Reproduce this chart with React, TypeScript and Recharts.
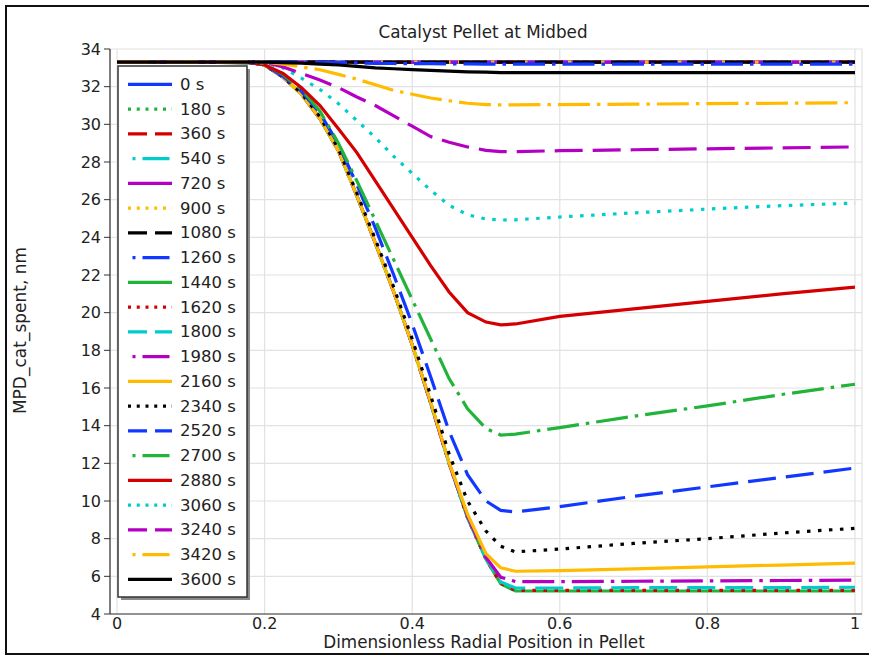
import { LineChart, Line, XAxis, YAxis, CartesianGrid, Legend } from 'recharts';

// radial positions sampled along the pellet (0 = centre, 1 = surface)
const positions = [0, 0.1, 0.18, 0.2, 0.225, 0.25, 0.275, 0.3, 0.325, 0.35, 0.375, 0.4, 0.425, 0.45, 0.475, 0.5, 0.52, 0.54, 0.6, 0.7, 0.8, 0.9, 1];

const times = [0, 180, 360, 540, 720, 900, 1080, 1260, 1440, 1620, 1800, 1980, 2160, 2340, 2520, 2700, 2880, 3060, 3240, 3420, 3600];

const mpd0 = [33.3, 33.3, 33.3, 33.3, 33.3, 33.3, 33.3, 33.3, 33.3, 33.3, 33.3, 33.3, 33.3, 33.3, 33.3, 33.3, 33.3, 33.3, 33.3, 33.3, 33.3, 33.3, 33.3];
const mpd180 = [33.3, 33.3, 33.3, 33.3, 33.3, 33.3, 33.3, 33.3, 33.3, 33.3, 33.3, 33.3, 33.3, 33.3, 33.3, 33.3, 33.3, 33.3, 33.3, 33.3, 33.3, 33.3, 33.3];
const mpd360 = [33.3, 33.3, 33.3, 33.3, 33.3, 33.3, 33.3, 33.3, 33.3, 33.3, 33.3, 33.3, 33.3, 33.3, 33.3, 33.3, 33.3, 33.3, 33.3, 33.3, 33.3, 33.3, 33.3];
const mpd540 = [33.3, 33.3, 33.3, 33.3, 33.3, 33.3, 33.3, 33.3, 33.3, 33.3, 33.3, 33.3, 33.3, 33.3, 33.3, 33.3, 33.3, 33.3, 33.3, 33.3, 33.3, 33.3, 33.3];
const mpd720 = [33.3, 33.3, 33.3, 33.3, 33.3, 33.3, 33.3, 33.3, 33.3, 33.3, 33.3, 33.3, 33.3, 33.3, 33.3, 33.3, 33.3, 33.3, 33.3, 33.3, 33.3, 33.3, 33.3];
const mpd900 = [33.3, 33.3, 33.3, 33.3, 33.3, 33.3, 33.3, 33.3, 33.3, 33.3, 33.3, 33.3, 33.3, 33.3, 33.3, 33.3, 33.3, 33.3, 33.3, 33.3, 33.3, 33.3, 33.3];
const mpd1080 = [33.3, 33.3, 33.3, 33.3, 33.3, 33.3, 33.3, 33.3, 33.3, 33.3, 33.3, 33.3, 33.3, 33.3, 33.3, 33.3, 33.3, 33.3, 33.3, 33.3, 33.3, 33.3, 33.3];
const mpd1260 = [33.3, 33.3, 33.3, 33.3, 33.3, 33.3, 33.3, 33.28, 33.26, 33.24, 33.23, 33.22, 33.22, 33.21, 33.21, 33.2, 33.2, 33.2, 33.2, 33.2, 33.2, 33.2, 33.2];
const mpd1440 = [33.3, 33.3, 33.28, 33.15, 32.5, 31.6, 30.3, 28.6, 26.2, 23.7, 21.1, 18.3, 15.2, 12.0, 9.1, 6.9, 5.6, 5.22, 5.22, 5.22, 5.22, 5.22, 5.22];
const mpd1620 = [33.3, 33.3, 33.28, 33.15, 32.5, 31.6, 30.3, 28.6, 26.2, 23.7, 21.1, 18.3, 15.2, 12.0, 9.1, 6.9, 5.62, 5.25, 5.25, 5.25, 5.25, 5.25, 5.26];
const mpd1800 = [33.3, 33.3, 33.28, 33.15, 32.5, 31.6, 30.3, 28.6, 26.2, 23.7, 21.1, 18.3, 15.2, 12.0, 9.15, 6.95, 5.7, 5.38, 5.38, 5.4, 5.4, 5.4, 5.42];
const mpd1980 = [33.3, 33.3, 33.28, 33.15, 32.5, 31.6, 30.3, 28.6, 26.2, 23.7, 21.1, 18.3, 15.2, 12.0, 9.2, 7.0, 5.95, 5.72, 5.72, 5.74, 5.76, 5.78, 5.8];
const mpd2160 = [33.3, 33.3, 33.28, 33.15, 32.5, 31.6, 30.3, 28.6, 26.2, 23.7, 21.1, 18.3, 15.25, 12.05, 9.3, 7.2, 6.45, 6.27, 6.3, 6.4, 6.5, 6.6, 6.7];
const mpd2340 = [33.3, 33.3, 33.28, 33.15, 32.52, 31.65, 30.4, 28.7, 26.35, 23.9, 21.35, 18.6, 15.6, 12.5, 10.0, 8.4, 7.6, 7.3, 7.45, 7.75, 8.0, 8.3, 8.55];
const mpd2520 = [33.3, 33.3, 33.28, 33.15, 32.55, 31.75, 30.6, 28.95, 26.8, 24.5, 22.0, 19.4, 16.6, 13.7, 11.4, 10.0, 9.5, 9.42, 9.7, 10.25, 10.75, 11.25, 11.75];
const mpd2700 = [33.3, 33.3, 33.28, 33.18, 32.65, 31.85, 30.7, 29.0, 27.0, 24.9, 22.8, 20.7, 18.6, 16.5, 14.9, 13.85, 13.5, 13.55, 13.9, 14.5, 15.05, 15.65, 16.2];
const mpd2880 = [33.3, 33.3, 33.29, 33.15, 32.7, 31.95, 31.0, 29.77, 28.5, 27.0, 25.5, 24.0, 22.5, 21.1, 20.0, 19.5, 19.35, 19.4, 19.8, 20.2, 20.6, 21.0, 21.36];
const mpd3060 = [33.3, 33.3, 33.3, 33.25, 33.0, 32.45, 31.85, 31.1, 30.2, 29.3, 28.3, 27.4, 26.5, 25.7, 25.2, 24.97, 24.92, 24.93, 25.08, 25.3, 25.5, 25.68, 25.82];
const mpd3240 = [33.3, 33.3, 33.3, 33.28, 33.05, 32.7, 32.35, 31.95, 31.45, 31.0, 30.45, 29.9, 29.35, 29.05, 28.8, 28.62, 28.55, 28.55, 28.6, 28.65, 28.7, 28.75, 28.8];
const mpd3420 = [33.3, 33.3, 33.3, 33.3, 33.2, 33.05, 32.9, 32.65, 32.4, 32.1, 31.8, 31.6, 31.4, 31.25, 31.12, 31.05, 31.03, 31.03, 31.05, 31.07, 31.1, 31.12, 31.15];
const mpd3600 = [33.3, 33.3, 33.3, 33.3, 33.28, 33.25, 33.2, 33.15, 33.08, 33.0, 32.95, 32.9, 32.86, 32.82, 32.79, 32.77, 32.75, 32.75, 32.75, 32.75, 32.75, 32.75, 32.75];

const series = [
  mpd0, mpd180, mpd360, mpd540, mpd720, mpd900, mpd1080, mpd1260, mpd1440, mpd1620, mpd1800,
  mpd1980, mpd2160, mpd2340, mpd2520, mpd2700, mpd2880, mpd3060, mpd3240, mpd3420, mpd3600,
];

const xTicks = [0, 0.2, 0.4, 0.6, 0.8, 1];
const yTicks = [4, 6, 8, 10, 12, 14, 16, 18, 20, 22, 24, 26, 28, 30, 32, 34];

// comsol style cycles: 7 colours, 4 line styles
const palette = ['#1238ff', '#22b33a', '#d40000', '#00cccc', '#b400c3', '#ffbb00', '#000000'];
const plotDash = ['', '3.5 7.5', '28 10', '32 7 3.5 7'];
const legendDash = ['', '3 5.75', '19 8', '0 4.5 3 7 27 50'];

const font = '"DejaVu Sans", sans-serif';

const rows = positions.map((x, i) => {
  const row: Record<string, number> = { x };
  series.forEach((s, k) => {
    row['t' + times[k]] = s[i];
  });
  return row;
});

const LegendBox = () => (
  <svg width={137} height={539} style={{ display: 'block' }}>
    <rect x={5} y={5} width={129} height={531} fill="#8a8a8a" />
    <rect x={2} y={2} width={129} height={531} fill="#fff" stroke="#333" strokeWidth={1.5} />
    {times.map((t, k) => {
      const cy = 20.3 + 24.75 * k;
      return (
        <g key={t}>
          <line
            x1={12}
            x2={56}
            y1={cy}
            y2={cy}
            stroke={palette[k % 7]}
            strokeWidth={3.2}
            strokeDasharray={legendDash[k % 4] || undefined}
          />
          <text x={64} y={cy} dominantBaseline="central" fontSize={16.5} fontFamily={font} fill="#222">
            {t} s
          </text>
        </g>
      );
    })}
  </svg>
);

const YTitle = (props: any) => {
  const { viewBox } = props;
  const cx = 20;
  const cy = viewBox.y + viewBox.height / 2 - 1;
  return (
    <text x={cx} y={cy} transform={`rotate(-90 ${cx} ${cy})`} textAnchor="middle" dominantBaseline="central" fontSize={17} fontFamily={font} fill="#222">
      MPD_cat_spent, nm
    </text>
  );
};

const XTitle = (props: any) => {
  const { viewBox } = props;
  const cx = viewBox.x + viewBox.width / 2 - 2;
  return (
    <text x={cx} y={642} textAnchor="middle" dominantBaseline="central" fontSize={16.8} fontFamily={font} fill="#222">
      Dimensionless Radial Position in Pellet
    </text>
  );
};

export default function App() {
  return (
    <div style={{ position: 'absolute', left: 0, top: 0, width: 869, height: 656, overflow: 'hidden', background: '#fff' }}>
      <div style={{ position: 'absolute', left: 5, top: 5, width: 900, height: 646, border: '2px solid #111' }} />
      <div style={{ position: 'absolute', left: 283, width: 400, top: 22, textAlign: 'center', fontFamily: font, fontSize: 16.8, color: '#222' }}>
        Catalyst Pellet at Midbed
      </div>
      <LineChart width={869} height={656} data={rows} margin={{ top: 49, right: 7, bottom: 12, left: 0 }} style={{ position: 'absolute', left: 0, top: 0 }}>
        <CartesianGrid stroke="#e2e2e2" strokeWidth={1.2} />
        <XAxis
          type="number"
          dataKey="x"
          domain={[-0.0095, 1.0095]}
          ticks={xTicks}
          allowDataOverflow
          height={30}
          tickSize={0}
          tickMargin={4}
          axisLine={{ stroke: '#333', strokeWidth: 1.2 }}
          tick={{ fontSize: 16, fill: '#222', fontFamily: font }}
          label={<XTitle />}
        />
        <XAxis xAxisId="top" orientation="top" type="number" dataKey="x" domain={[-0.0095, 1.0095]} ticks={xTicks} allowDataOverflow height={0} mirror tick={false} tickSize={6} axisLine={{ stroke: '#333', strokeWidth: 1.2 }} tickLine={{ stroke: '#333' }} />
        <YAxis
          type="number"
          domain={[4, 34]}
          ticks={yTicks}
          allowDataOverflow
          width={110}
          tickSize={6}
          tickMargin={3}
          axisLine={{ stroke: '#333', strokeWidth: 1.2 }}
          tickLine={{ stroke: '#333' }}
          tick={{ fontSize: 16, fill: '#222', fontFamily: font }}
          label={<YTitle />}
        />
        <YAxis yAxisId="right" orientation="right" type="number" domain={[4, 34]} ticks={yTicks} allowDataOverflow width={0} mirror tick={false} tickSize={6} axisLine={{ stroke: '#333', strokeWidth: 1.2 }} tickLine={{ stroke: '#333' }} />
        {times.map((t, k) => (
          <Line
            key={t}
            type="linear"
            dataKey={'t' + t}
            name={t + ' s'}
            stroke={palette[k % 7]}
            strokeWidth={3.2}
            strokeDasharray={plotDash[k % 4] || undefined}
            dot={false}
            activeDot={false}
            isAnimationActive={false}
          />
        ))}
        <Legend
          layout="vertical"
          align="center"
          verticalAlign="middle"
          wrapperStyle={{ left: 116, top: 64, width: 137, height: 539 }}
          content={() => <LegendBox />}
        />
      </LineChart>
    </div>
  );
}
